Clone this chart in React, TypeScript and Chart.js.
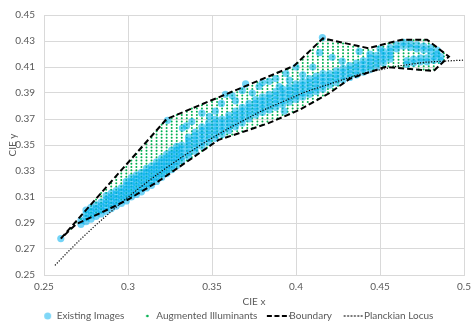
import React, { useEffect, useRef } from "react";
import { Chart, registerables } from "chart.js";

Chart.register(...registerables);

// ---- Data ----
const X_MIN = 0.25;
const X_MAX = 0.5;
const X_STEP = 0.05;
const Y_MIN = 0.25;
const Y_MAX = 0.45;
const Y_STEP = 0.02;

const SERIES_NAMES = ["Existing Images", "Augmented Illuminants", "Boundary", "Planckian Locus"];

// Existing images: each row is [x, y1, y2, ...]
const EXISTING_COLUMNS: number[][] = [
  [0.26, 0.278],
  [0.272, 0.289, 0.292],
  [0.275, 0.291, 0.294, 0.297, 0.3],
  [0.278, 0.293, 0.296, 0.299, 0.302],
  [0.281, 0.295, 0.298, 0.301, 0.304],
  [0.284, 0.297, 0.3, 0.303, 0.306],
  [0.287, 0.299, 0.302, 0.305, 0.308, 0.311],
  [0.29, 0.301, 0.304, 0.307, 0.31, 0.313],
  [0.293, 0.303, 0.306, 0.309, 0.312, 0.315],
  [0.296, 0.305, 0.308, 0.311, 0.314, 0.317],
  [0.299, 0.307, 0.31, 0.313, 0.316, 0.319, 0.322],
  [0.302, 0.31, 0.313, 0.316, 0.319, 0.322, 0.325],
  [0.305, 0.312, 0.315, 0.318, 0.321, 0.324, 0.327],
  [0.308, 0.314, 0.317, 0.32, 0.323, 0.326, 0.329],
  [0.311, 0.317, 0.32, 0.323, 0.326, 0.329, 0.332],
  [0.314, 0.319, 0.322, 0.325, 0.328, 0.331, 0.334],
  [0.317, 0.322, 0.325, 0.328, 0.331, 0.334, 0.337],
  [0.32, 0.325, 0.328, 0.331, 0.334, 0.337, 0.34],
  [0.323, 0.328, 0.331, 0.334, 0.337, 0.34, 0.343],
  [0.326, 0.331, 0.334, 0.337, 0.34, 0.343, 0.346],
  [0.329, 0.334, 0.337, 0.34, 0.343, 0.346, 0.349],
  [0.332, 0.338, 0.341, 0.344, 0.347, 0.35],
  [0.336, 0.341, 0.344, 0.347, 0.35, 0.353, 0.356],
  [0.34, 0.345, 0.348, 0.351, 0.354, 0.357, 0.36],
  [0.344, 0.349, 0.352, 0.355, 0.358, 0.361, 0.364],
  [0.348, 0.352, 0.355, 0.358, 0.361, 0.364, 0.367],
  [0.352, 0.355, 0.358, 0.361, 0.364, 0.367, 0.37],
  [0.356, 0.358, 0.361, 0.364, 0.367, 0.37],
  [0.36, 0.361, 0.364, 0.367, 0.37, 0.373],
  [0.364, 0.364, 0.367, 0.37, 0.373, 0.376],
  [0.368, 0.367, 0.37, 0.373, 0.376, 0.379],
  [0.372, 0.37, 0.373, 0.376, 0.379, 0.382],
  [0.376, 0.373, 0.376, 0.379, 0.382, 0.385],
  [0.38, 0.375, 0.378, 0.381, 0.384, 0.387],
  [0.384, 0.377, 0.38, 0.383, 0.386, 0.389],
  [0.388, 0.379, 0.382, 0.385, 0.388, 0.391],
  [0.392, 0.381, 0.384, 0.387, 0.39, 0.393],
  [0.396, 0.383, 0.386, 0.389, 0.392, 0.395],
  [0.4, 0.385, 0.388, 0.391, 0.394, 0.397],
  [0.404, 0.387, 0.39, 0.393, 0.396, 0.399],
  [0.408, 0.389, 0.392, 0.395, 0.398, 0.401],
  [0.412, 0.391, 0.394, 0.397, 0.4, 0.403],
  [0.416, 0.393, 0.396, 0.399, 0.402, 0.405],
  [0.42, 0.396, 0.399, 0.402, 0.405],
  [0.424, 0.398, 0.401, 0.404, 0.407],
  [0.428, 0.4, 0.403, 0.406, 0.409],
  [0.432, 0.402, 0.405, 0.408, 0.411],
  [0.436, 0.404, 0.407, 0.41, 0.413],
  [0.44, 0.406, 0.409, 0.412, 0.415],
  [0.444, 0.408, 0.411, 0.414, 0.417],
  [0.448, 0.41, 0.413, 0.416, 0.419],
  [0.452, 0.413, 0.416, 0.419, 0.422],
  [0.456, 0.416, 0.419, 0.422, 0.425],
  [0.46, 0.424, 0.427],
  [0.464, 0.426, 0.429],
  [0.468, 0.425, 0.428],
  [0.472, 0.424, 0.427],
  [0.476, 0.423, 0.426],
  [0.48, 0.422, 0.425],
  [0.484, 0.42, 0.423],
  [0.466, 0.412, 0.415],
  [0.47, 0.413, 0.416],
  [0.474, 0.414, 0.417],
  [0.478, 0.414, 0.417],
  [0.482, 0.415, 0.418],
  [0.486, 0.415, 0.418],
  [0.3235, 0.369],
  [0.3324, 0.363],
  [0.3348, 0.3647],
  [0.338, 0.368],
  [0.344, 0.3745],
  [0.3485, 0.372],
  [0.352, 0.376],
  [0.3556, 0.382],
  [0.358, 0.389],
  [0.362, 0.388],
  [0.364, 0.384],
  [0.368, 0.392],
  [0.37, 0.397],
  [0.374, 0.39],
  [0.378, 0.395],
  [0.38, 0.398],
  [0.384, 0.399],
  [0.388, 0.401],
  [0.39, 0.395],
  [0.394, 0.405],
  [0.396, 0.4],
  [0.4, 0.41],
  [0.404, 0.404],
  [0.41, 0.41],
  [0.414, 0.421],
  [0.4157, 0.4326],
  [0.4215, 0.4175],
  [0.4275, 0.4145],
  [0.4376, 0.422],
  [0.444, 0.42],
  [0.45, 0.424],
  [0.393, 0.376],
];

// Boundary polygon (closed)
const BOUNDARY_X = [0.26, 0.323, 0.399, 0.416, 0.443, 0.463, 0.478, 0.491, 0.482, 0.453, 0.432, 0.42, 0.402, 0.384, 0.366, 0.354, 0.318, 0.3, 0.289, 0.269, 0.26];
const BOUNDARY_Y = [0.278, 0.37, 0.411, 0.432, 0.4245, 0.431, 0.431, 0.418, 0.407, 0.41, 0.401, 0.39, 0.377, 0.367, 0.359, 0.354, 0.322, 0.308, 0.301, 0.289, 0.278];

// Augmented illuminants: regular sampling grid inside the boundary
const AUG_X0 = 0.26;
const AUG_Y0 = 0.278;
const AUG_X_STEP = 0.003;
const AUG_Y_STEP = 0.0025;

// Planckian locus
const PLANCK_X = [0.2565, 0.2637, 0.2719, 0.2807, 0.2869, 0.2952, 0.3064, 0.3135, 0.3221, 0.3324, 0.3451, 0.3608, 0.3805, 0.4053, 0.4369, 0.4599, 0.477, 0.4964, 0.5018];
const PLANCK_Y = [0.2574, 0.2671, 0.2776, 0.2883, 0.2953, 0.3048, 0.3166, 0.3236, 0.3318, 0.341, 0.3516, 0.3635, 0.3768, 0.3907, 0.4041, 0.4106, 0.4137, 0.4151, 0.4153];

// ---- Styling constants ----
const FONT = "Lato, 'Liberation Sans', sans-serif";
const FS = 10;
const TEXT = "#595959";
const GRID = "#d9d9d9";
const BLUE = "rgba(0,176,240,0.55)";
const GREEN = "#00B050";

function inPolygon(px: number, py: number, xs: number[], ys: number[]) {
  let inside = false;
  for (let i = 0, j = xs.length - 1; i < xs.length; j = i++) {
    const xi = xs[i], yi = ys[i], xj = xs[j], yj = ys[j];
    if ((yi > py) !== (yj > py) && px < ((xj - xi) * (py - yi)) / (yj - yi) + xi) inside = !inside;
  }
  return inside;
}

function icon(w: number, h: number, draw: (c: CanvasRenderingContext2D) => void) {
  const cv = document.createElement("canvas");
  cv.width = w;
  cv.height = h;
  draw(cv.getContext("2d") as CanvasRenderingContext2D);
  return cv;
}

export default function App() {
  const ref = useRef<HTMLCanvasElement>(null);
  useEffect(() => {
    if (!ref.current) return;
    const existing = EXISTING_COLUMNS.flatMap((row) => row.slice(1).map((y) => ({ x: row[0], y })));
    const augmented: { x: number; y: number }[] = [];
    const minX = Math.min(...BOUNDARY_X), maxX = Math.max(...BOUNDARY_X);
    const minY = Math.min(...BOUNDARY_Y), maxY = Math.max(...BOUNDARY_Y);
    for (let i = 0; AUG_X0 + i * AUG_X_STEP <= maxX; i++) {
      const x = AUG_X0 + i * AUG_X_STEP;
      if (x < minX) continue;
      for (let j = 0; AUG_Y0 + j * AUG_Y_STEP <= maxY; j++) {
        const y = AUG_Y0 + j * AUG_Y_STEP;
        if (y < minY) continue;
        if (inPolygon(x, y, BOUNDARY_X, BOUNDARY_Y)) augmented.push({ x, y });
      }
    }
    const boundary = BOUNDARY_X.map((x, i) => ({ x, y: BOUNDARY_Y[i] }));
    const planck = PLANCK_X.map((x, i) => ({ x, y: PLANCK_Y[i] }));

    const icons = [
      icon(31, 10, (c) => {
        c.fillStyle = "rgba(0,176,240,0.5)";
        c.beginPath();
        c.arc(21.5, 5, 3.5, 0, Math.PI * 2);
        c.fill();
      }),
      icon(31, 10, (c) => {
        c.fillStyle = GREEN;
        c.beginPath();
        c.arc(21.5, 5, 1.3, 0, Math.PI * 2);
        c.fill();
      }),
      icon(31, 6, (c) => {
        c.strokeStyle = "#000";
        c.lineWidth = 2;
        c.setLineDash([5, 2.5]);
        c.beginPath();
        c.moveTo(8, 3);
        c.lineTo(31, 3);
        c.stroke();
      }),
      icon(31, 6, (c) => {
        c.strokeStyle = "#000";
        c.lineWidth = 1.3;
        c.setLineDash([1.4, 2]);
        c.beginPath();
        c.moveTo(10.5, 3);
        c.lineTo(30.5, 3);
        c.stroke();
      }),
    ];

    const fmt = (v: number | string) => String(Number(Number(v).toFixed(2)));

    const chart = new Chart(ref.current, {
      type: "scatter",
      data: {
        datasets: [
          { label: SERIES_NAMES[0], data: existing, backgroundColor: BLUE, borderWidth: 0, pointRadius: 3.6, order: 3 },
          { label: SERIES_NAMES[1], data: augmented, backgroundColor: GREEN, borderWidth: 0, pointRadius: 1, order: 4 },
          { label: SERIES_NAMES[2], data: boundary, showLine: true, borderColor: "#000", borderWidth: 2, borderDash: [6, 3], pointRadius: 0, fill: false, tension: 0, order: 2 },
          { label: SERIES_NAMES[3], data: planck, showLine: true, borderColor: "#000", borderWidth: 1.2, borderDash: [1.2, 1.6], pointRadius: 0, fill: false, tension: 0, order: 1 },
        ] as any,
      },
      options: {
        animation: false,
        responsive: false,
        devicePixelRatio: 1,
        layout: { padding: { top: 10, right: 6, left: 0, bottom: 0 } },
        plugins: {
          tooltip: { enabled: false },
          legend: {
            position: "bottom",
            maxHeight: 24,
            labels: {
              usePointStyle: true,
              pointStyleWidth: 20,
              padding: 7,
              color: TEXT,
              font: { family: FONT, size: FS },
              generateLabels: () =>
                SERIES_NAMES.map((t, i) => ({
                  text: t,
                  datasetIndex: i,
                  pointStyle: icons[i] as any,
                  fillStyle: "transparent",
                  strokeStyle: "transparent",
                  lineWidth: 0,
                  hidden: false,
                  fontColor: TEXT,
                })),
            },
          },
        },
        scales: {
          x: {
            type: "linear",
            min: X_MIN,
            max: X_MAX,
            afterFit: (s: any) => {
              s.height = 29;
            },
            ticks: { stepSize: X_STEP, callback: fmt, color: TEXT, padding: 0, font: { family: FONT, size: FS, lineHeight: 2.4 } },
            grid: { color: GRID, drawTicks: false },
            border: { color: GRID },
            title: { display: true, text: "CIE x", color: TEXT, font: { family: FONT, size: FS, lineHeight: "3.5px" as any }, padding: 0 },
          },
          y: {
            type: "linear",
            min: Y_MIN,
            max: Y_MAX,
            afterFit: (s: any) => {
              s.width = 44;
            },
            ticks: { stepSize: Y_STEP, callback: fmt, color: TEXT, padding: 9, font: { family: FONT, size: FS } },
            grid: { color: GRID, drawTicks: false },
            border: { color: GRID },
            title: { display: true, text: "CIE y", color: TEXT, font: { family: FONT, size: FS }, padding: { top: 7, bottom: 0 } },
          },
        },
      } as any,
    });
    return () => chart.destroy();
  }, []);
  return (
    <div style={{ position: "absolute", left: 0, top: 0, width: 471, height: 328 }}>
      <canvas ref={ref} width={471} height={328} style={{ display: "block" }} />
    </div>
  );
}
